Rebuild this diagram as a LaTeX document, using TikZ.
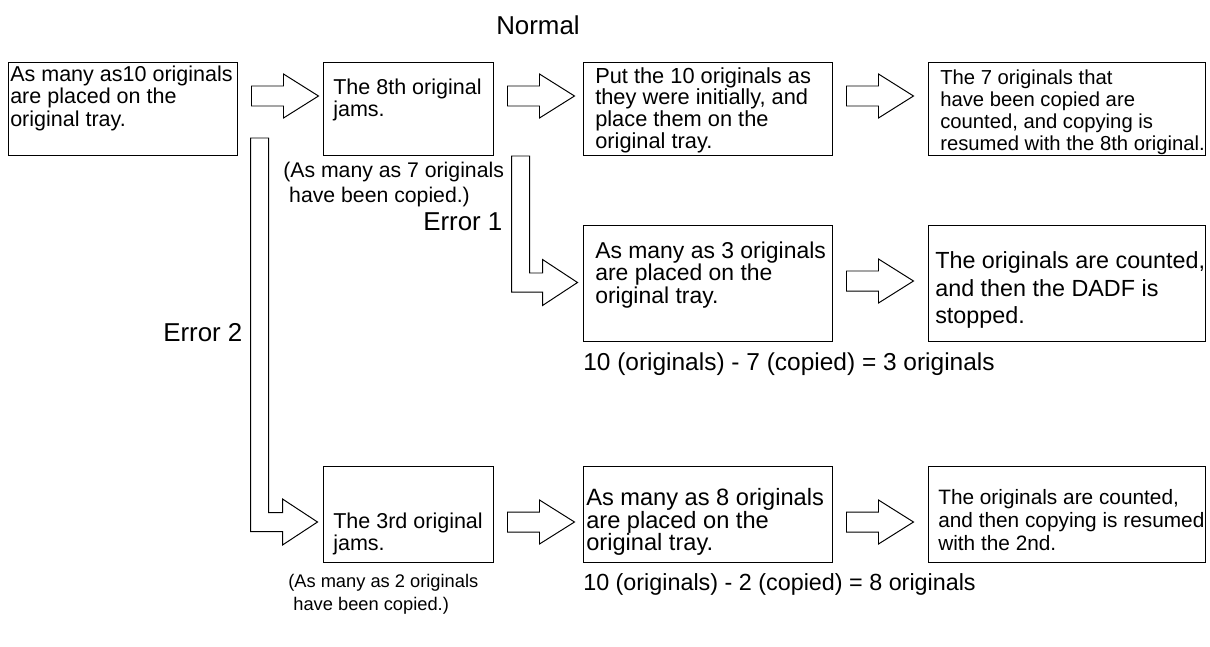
\documentclass[tikz,border=0pt]{standalone}
\usepackage{fontspec}
\setmainfont{Liberation Sans}
\usetikzlibrary{calc, fit}

\tikzset{
  box/.style={draw, line width=0.7pt, inner sep=0pt},
  txt/.style={anchor=west, align=left, inner sep=0pt, font=\fontsize{15.3}{16}\selectfont},
  lbl/.style={anchor=west, inner sep=0pt, font=\fontsize{18.4}{20}\selectfont},
  arr/.style={draw, line width=0.7pt, fill=white, line join=miter},
}
% hollow block arrow after box #1, raised/lowered by #2
\newcommand{\fatarrow}[2]{%
  \begin{scope}[shift={($(#1.east)+(14,#2)$)}]
    \draw[arr] (0,-10) -- (32,-10) -- (32,-22) -- (67,0) -- (32,22) -- (32,10) -- (0,10) -- cycle;
  \end{scope}}
% bent block arrow ending at #1, shaft at #2, top at #3
\newcommand{\bentarrow}[3]{%
  \begin{scope}[shift={(#1)}]
    \draw[arr] (#2,#3) -- (#2+18,#3) -- (#2+18,-9.5) -- (-35,-9.5) -- (-35,-23) -- (0,0)
      -- (-35,23) -- (-35,9.5) -- (#2,9.5) -- cycle;
  \end{scope}}

\begin{document}
\begin{tikzpicture}[x=0.025cm, y=-0.025cm]
  \useasboundingbox (0,0) rectangle (1210,646);

  % boxes
  \node[box, fit={(8,62) (237,155)}] (b1) {};
  \node[box, fit={(323,62) (493,155)}] (b2) {};
  \node[box, fit={(583,62) (832,155)}] (b3) {};
  \node[box, fit={(928,62) (1205,155)}] (b4) {};
  \node[box, fit={(583,225) (832,341)}] (b6) {};
  \node[box, fit={(928,225) (1205,341)}] (b7) {};
  \node[box, fit={(323,466) (493,562)}] (b5) {};
  \node[box, fit={(583,466) (832,562)}] (b8) {};
  \node[box, fit={(928,466) (1205,562)}] (b9) {};

  % box texts
  \node[txt] (t1) at (10,98) {As many as10 originals\\are placed on the\\original tray.};
  \node[txt] (t2) at (333,100) {The 8th original\\jams.};
  \node[txt, font=\fontsize{15.5}{15.4}\selectfont] (t3) at (595,110)
    {Put the 10 originals as\\they were initially, and\\place them on the\\original tray.};
  \node[txt, font=\fontsize{14.4}{15.6}\selectfont] (t4) at (940,112)
    {The 7 originals that\\have been copied are\\counted, and copying is\\resumed with the 8th original.};
  \node[txt, font=\fontsize{16.3}{15.9}\selectfont] (t6) at (595,275)
    {As many as 3 originals\\are placed on the\\original tray.};
  \node[txt, font=\fontsize{16.6}{19.5}\selectfont] (t7) at (935,290)
    {The originals are counted,\\and then the DADF is\\stopped.};
  \node[txt] (t5) at (333,534) {The 3rd original\\jams.};
  \node[txt, font=\fontsize{16.8}{16}\selectfont] (t8) at (586,522)
    {As many as 8 originals\\are placed on the\\original tray.};
  \node[txt, font=\fontsize{14.8}{16.4}\selectfont] (t9) at (938,520)
    {The originals are counted,\\and then copying is resumed\\with the 2nd.};

  % notes
  \node[txt, font=\fontsize{15.1}{17.8}\selectfont] (n7) at (283,184.5)
    {(As many as 7 originals\\\hspace*{0.28em}have been copied.)};
  \node[txt, font=\fontsize{13}{16.4}\selectfont] (n2) at (288,594)
    {(As many as 2 originals\\\hspace*{0.28em}have been copied.)};
  \node[txt, font=\fontsize{17.4}{19}\selectfont] (eq1) at (583,364)
    {10 (originals) - 7 (copied) = 3 originals};
  \node[txt, font=\fontsize{16.6}{19}\selectfont] (eq2) at (583,584)
    {10 (originals) - 2 (copied) = 8 originals};

  % case labels
  \node[lbl] (normal) at (496,25) {Normal};
  \node[lbl] (err1) at (423,221.5) {Error 1};
  \node[lbl] (err2) at (163,333) {Error 2};

  % arrows
  \fatarrow{b1}{-12.5}
  \fatarrow{b2}{-12.5}
  \fatarrow{b3}{-12.5}
  \fatarrow{b6}{-2}
  \fatarrow{b5}{8}
  \fatarrow{b8}{8}
  \bentarrow{$(b6.west)+(-5,-0.5)$}{-66}{-126.5}
  \bentarrow{$(b5.west)+(-5,8)$}{-67}{-384}
\end{tikzpicture}
\end{document}
